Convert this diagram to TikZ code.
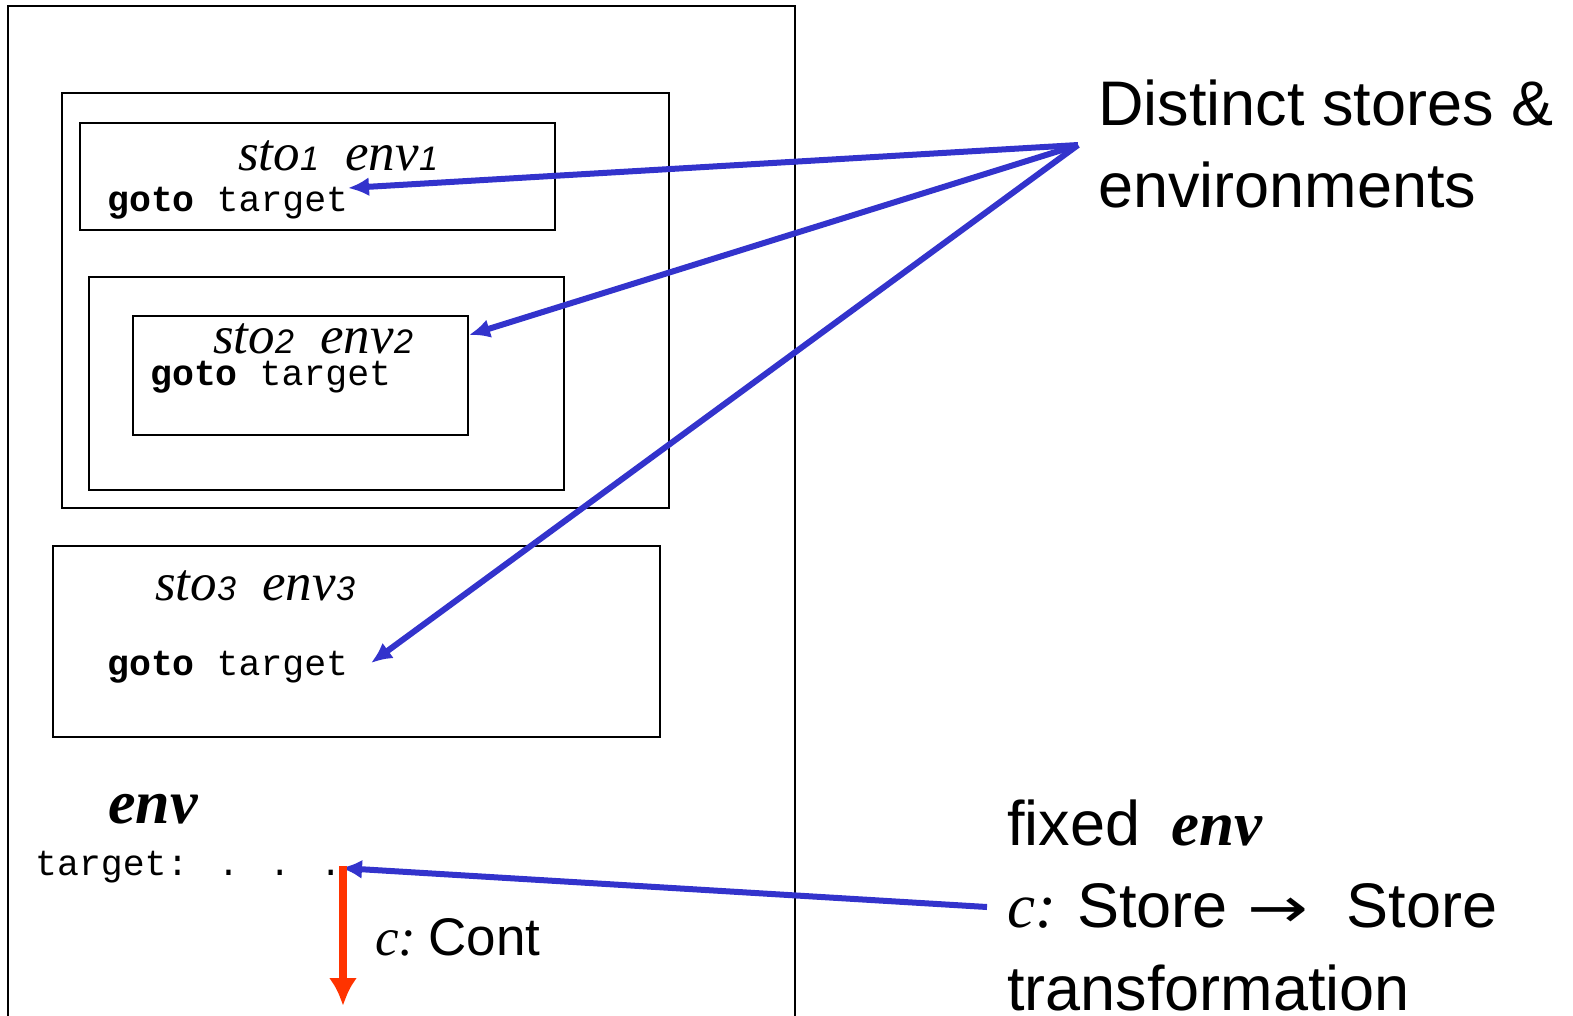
\documentclass[tikz,border=0pt]{standalone}
\usepackage{fontspec}
\usepackage{graphicx}
\setmainfont{Liberation Serif}
\newfontfamily\arial{Liberation Sans}
\newfontfamily\cour{Liberation Mono}
\newfontfamily\dejavu{DejaVu Sans}
\usetikzlibrary{arrows.meta}
\definecolor{myblue}{HTML}{3333CC}
\definecolor{myred}{HTML}{FF3300}
\newcommand{\fs}[1]{\fontsize{#1}{#1}\selectfont}
\newcommand{\stoenv}[1]{\fs{53}\itshape sto{\arial\itshape\fs{34}#1}\ \ env{\arial\itshape\fs{34}#1}}
\newcommand{\gototarget}{{\cour\fs{36.5}\textbf{goto} target}}
\tikzset{
  frame/.style={draw=black, line width=2pt, inner sep=0pt, minimum width=#1},
  lbl/.style={inner sep=0pt, anchor=base west},
  bluearrow/.style={draw=myblue, line width=6pt, -{Latex[length=21pt,width=19pt]}},
  redarrow/.style={draw=myred, line width=8.5pt, -{Latex[length=28pt,width=28pt]}},
}
\begin{document}
\begin{tikzpicture}[x=1pt,y=-1pt]
\useasboundingbox (0,0) rectangle (1573,1015);
% outer frame (bottom runs off the page)
\draw[line width=2pt] (8,1030) -- (8,6) -- (795,6) -- (795,1030);
% boxes
\node[frame=607pt, minimum height=415pt] (boxA) at (365.5,300.5) {};
\node[frame=475pt, minimum height=107pt] (box1) at (317.5,176.5) {};
\node[frame=475pt, minimum height=213pt] (boxB) at (326.5,383.5) {};
\node[frame=335pt, minimum height=119pt] (box2) at (300.5,375.5) {};
\node[frame=607pt, minimum height=191pt] (box3) at (356.5,641.5) {};
% box texts
\node[lbl] (se1) at (238,170) {\stoenv{1}};
\node[lbl] (g1) at (107,211) {\gototarget};
\node[lbl] (se2) at (213,353) {\stoenv{2}};
\node[lbl] (g2) at (150,385) {\gototarget};
\node[lbl] (se3) at (155,600) {\stoenv{3}};
\node[lbl] (g3) at (107,675) {\gototarget};
% env section
\node[lbl] (env) at (108,823) {\fs{62}\bfseries\itshape env};
\node[lbl] (tgt) at (35,875) {\cour\fs{36.5}target: . . .};
\node[lbl] (cont) at (375,955) {\fs{53}{\itshape c:}\hspace{12pt}{\arial Cont}};
% right texts
\node[lbl] (d1) at (1098,125) {\arial\fs{63}Distinct stores \&};
\node[lbl] (d2) at (1098,207) {\arial\fs{63}environments};
\node[lbl] (f1) at (1007,845) {\fs{63}{\arial fixed}\ \ {\bfseries\itshape env}};
\node[lbl] (f2) at (1007,927) {\fs{63}{\itshape c:} {\arial Store}\hspace{20pt}\scalebox{1.3}[1]{\dejavu\fs{56}→}\hspace{38pt}{\arial Store}};
\node[lbl] (f3) at (1007,1010) {\arial\fs{63}transformation};
% connector points
\coordinate (hub) at (1078,145);
\coordinate (t1) at (348,188);
\coordinate (t2) at (469,335);
\coordinate (t3) at (371,663);
\coordinate (t4) at (341,868);
\coordinate (fe) at (987,907);
\coordinate (rtop) at (343,866);
\coordinate (rdown) at (343,1006);
% connectors
\draw[bluearrow] (hub) -- (t1);
\draw[bluearrow] (hub) -- (t2);
\draw[bluearrow] (hub) -- (t3);
\draw[bluearrow] (fe) -- (t4);
\draw[redarrow] (rtop) -- (rdown);
\end{tikzpicture}
\end{document}
